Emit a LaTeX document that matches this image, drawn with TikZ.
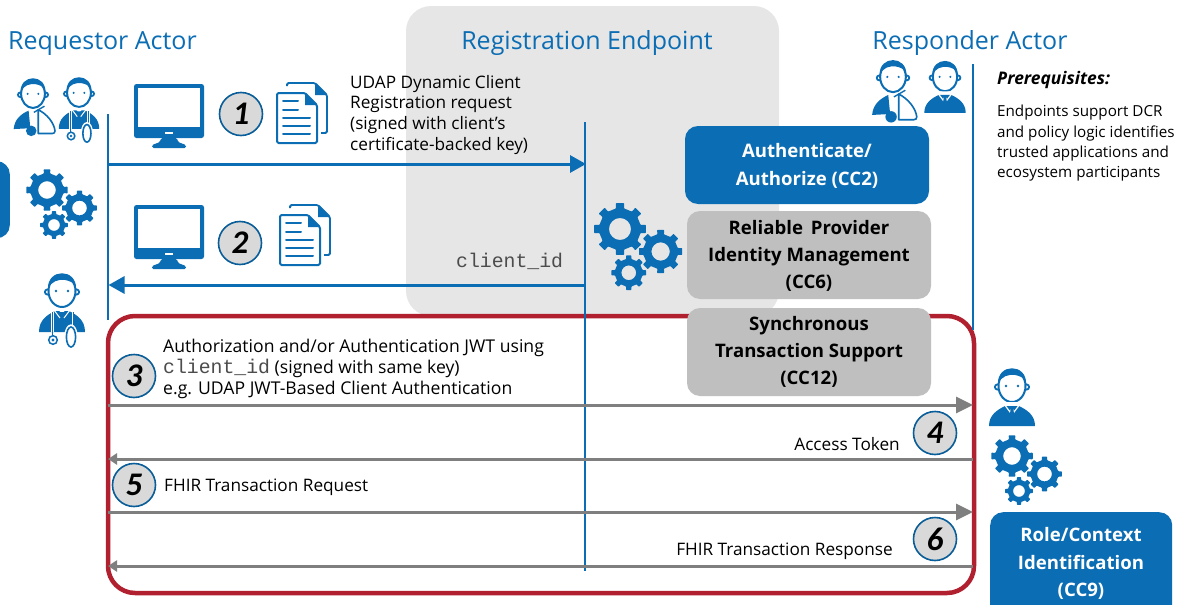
\documentclass[tikz,border=0pt]{standalone}
\usepackage{fontspec}
\setmainfont{Open Sans}
\newfontfamily\monof{Liberation Mono}
\newfontfamily\numf{Carlito}
\definecolor{bluec}{HTML}{0B6DB3}
\definecolor{redc}{HTML}{B0202F}
\definecolor{greyl}{HTML}{7F7F7F}
\definecolor{panel}{HTML}{E6E6E6}
\definecolor{boxg}{HTML}{BFBFBF}
\definecolor{numfill}{HTML}{D9D9D9}
\newcommand{\fs}[2]{\fontsize{#1}{#2}\selectfont}
\newcommand{\gearshape}[3]{% x y R
  \fill[bluec,even odd rule,rounded corners=0.6pt,shift={(#1,#2)}]
    (-11:0.80*#3)
    \foreach \a in {0,45,...,315}{
      -- (\a-11:0.80*#3) -- (\a-9:#3) -- (\a+9:#3) -- (\a+11:0.80*#3)
    } -- cycle
    (0,0) circle[radius=0.42*#3];
}
\newcommand{\headshape}{%
  \draw[bluec,line width=1.8pt,fill=white] (-14.5,2) circle[radius=2.6];
  \draw[bluec,line width=1.8pt,fill=white] (14.5,2) circle[radius=2.6];
  \draw[bluec,line width=2pt,fill=white] (0,1) ellipse[x radius=13.5,y radius=16];
  \fill[bluec] (-14,-1) .. controls (-15,-22) and (15,-22) .. (14,-1)
     .. controls (12,-8) and (8,-9) .. (3,-10) .. controls (-3,-11) and (-11,-9) .. cycle;
  \fill[bluec] (-6,1) circle[radius=1.3] (6,1) circle[radius=1.3];
}
\tikzset{
  x=1pt,y=-1pt,
  suitman/.pic={
    \headshape
    \fill[bluec] (-23,41) .. controls (-23,30) and (-15,25) .. (-7,21) -- (7,21) .. controls (15,25) and (23,30) .. (23,41) -- cycle;
    \draw[white,line width=1.2pt] (-8,19) -- (-2,27) -- (0,22) -- (2,27) -- (8,19);
    \fill[white] (-6,17) -- (6,17) -- (0,23) -- cycle;
    \fill[bluec] (-2.5,21) -- (2.5,21) -- (1.5,25) -- (3,36) -- (0,40) -- (-3,36) -- (-1.5,25) -- cycle;
  },
  doctor/.pic={
    \headshape
    \fill[bluec] (-23,42) .. controls (-23,30) and (-15,25) .. (-7,21) -- (7,21) .. controls (15,25) and (23,30) .. (23,42) -- cycle;
    \fill[white] (-5,18) -- (5,18) -- (0,24) -- cycle;
    \fill[bluec] (-2.2,22) -- (2.2,22) -- (1.3,26) -- (2.5,35) -- (-2.5,35) -- (-1.3,26) -- cycle;
    \draw[white,line width=1pt] (-8,20) -- (-2,28) (8,20) -- (2,28);
    \draw[white,line width=2.4pt] (-9.5,22) -- (-9.5,42) (11,22) -- (11,36);
    \draw[bluec,line width=1pt] (-9.5,22) -- (-9.5,45) (11,22) -- (11,36);
    \draw[bluec,line width=1.5pt,fill=white] (-9,50) circle[radius=4.3];
    \fill[bluec] (-9,50) circle[radius=1.6];
    \draw[white,line width=3.2pt] (9,46) ellipse[x radius=5,y radius=10];
    \draw[bluec,line width=1.6pt,fill=white] (9,47) ellipse[x radius=4.6,y radius=10];
  },
  patient/.pic={
    \headshape
    \fill[bluec] (-22,41) .. controls (-21,30) and (-14,24) .. (-5,20) -- (-3,40) -- cycle;
    \fill[bluec] (-2,43) circle[radius=6];
    \draw[bluec,line width=1.6pt,fill=white,line join=round] (6,19) .. controls (16,24) and (24,34) .. (25,43) .. controls (25,45) and (24,46) .. (22,46) -- (6,46) -- cycle;
    \draw[bluec,line width=1.4pt] (1,22) -- (13,15);
  },
  gearset/.pic={
    \gearshape{0}{0}{21}
    \gearshape{32.5}{18}{17.5}
    \gearshape{7}{35}{14}
  },
  monitor/.pic={
    \fill[bluec,even odd rule,rounded corners=2.5pt] (0,0) rectangle (70,54);
    \fill[white] (4,4) rectangle (66,43);
    \fill[white] (31,47.5) rectangle (39,49.5);
    \fill[bluec,rounded corners=1.5pt] (27,54) -- (43,54) -- (44,58) -- (52,61) -- (52,64) -- (18,64) -- (18,61) -- (26,58) -- cycle;
  },
  docs/.pic={
    \draw[bluec,line width=1.8pt,rounded corners=1.5pt] (10,-7) -- (10,-10) -- (38,-10) -- (50,2) -- (50,40) -- (44,40);
    \fill[bluec] (38,-10) -- (50,2) -- (38,2) -- cycle;
    \draw[bluec,line width=2pt,fill=white,line join=round,rounded corners=1.5pt] (0,0) -- (28,0) -- (40,12) -- (40,50) -- (0,50) -- cycle;
    \fill[bluec] (28,0) -- (40,12) -- (28,12) -- cycle;
    \draw[bluec,line width=2pt,line cap=round] (6,8) -- (21,8) (6,17) -- (21,17) (6,25) -- (33,25) (6,33) -- (33,33) (6,41) -- (33,41);
  },
  numc/.style={circle,draw=bluec!85!black,line width=1.6pt,fill=numfill,minimum size=43pt,inner sep=0pt,
     font=\numf\bfseries\itshape\fs{33}{33},text=black},
  title/.style={text=bluec,font=\fs{25}{28},inner sep=0pt},
  body/.style={text=black,font=\fs{17.2}{20.7},align=left,inner sep=0pt,anchor=north west},
  capbox/.style={rounded corners=13pt,inner sep=0pt},
  captext/.style={inner sep=0pt,align=center,font=\bfseries\fs{18.6}{27.2}},
  bluebox/.style={capbox,fill=bluec},
  greybox/.style={capbox,fill=boxg},
  bluearrow/.style={draw=bluec,line width=3pt,-{Triangle[length=16pt,width=17pt]}},
  greyarrow/.style={draw=greyl,line width=3pt,-{Triangle[length=17pt,width=16pt]}},
  greyback/.style={draw=greyl,line width=3pt,-{Triangle[length=9pt,width=11pt]}},
  lifeline/.style={draw=bluec,line width=2.5pt},
}
\usetikzlibrary{arrows.meta}
\begin{document}
\begin{tikzpicture}
\useasboundingbox (0,0) rectangle (1192,605);
\begin{scope}
\clip (0,0) rectangle (1192,605);
\fill[panel,rounded corners=25pt] (406,6) rectangle (779,316);
\draw[redc,line width=4.5pt,fill=white,rounded corners=27pt] (108,316) rectangle (974,593);
\node[bluebox,minimum width=60pt,minimum height=77pt,anchor=north east] (stub) at (10,161) {};
\node[bluebox,minimum width=182pt,minimum height=110pt,anchor=north west] (role) at (990,512) {};
\end{scope}
\node[title,anchor=base west] (t1) at (8,49) {Requestor Actor};
\node[title,anchor=base] (t2) at (587,49) {Registration Endpoint};
\node[title,anchor=base] (t3) at (970,49) {Responder Actor};
% lifelines
\coordinate (reqtop) at (108,114);
\coordinate (reqbot) at (108,320);
\coordinate (regtop) at (585,122);
\coordinate (regbot) at (585,571);
\coordinate (restop) at (973,64);
\coordinate (resbot) at (973,330);
\coordinate (a1s) at (108,164);
\coordinate (a1e) at (586,164);
\coordinate (a2s) at (585,285);
\coordinate (a2e) at (108.5,285);
\coordinate (a3s) at (108,405);
\coordinate (a3e) at (973,405);
\coordinate (a4s) at (973,459);
\coordinate (a4e) at (108,459);
\coordinate (a5s) at (108,512);
\coordinate (a5e) at (973,512);
\coordinate (a6s) at (973,566);
\coordinate (a6e) at (108,566);
\draw[lifeline] (reqtop) -- (reqbot);
\draw[lifeline] (restop) -- (resbot);
\draw[lifeline] (regtop) -- (regbot);
\draw[bluearrow] (a1s) -- (a1e);
\draw[bluearrow] (a2s) -- (a2e);
\draw[greyarrow] (a3s) -- (a3e);
\draw[greyback] (a4s) -- (a4e);
\draw[greyarrow] (a5s) -- (a5e);
\draw[greyback] (a6s) -- (a6e);
% coloured boxes
\node[bluebox,minimum width=244pt,minimum height=78pt] (cc2) at (807,165) {};
\node[greybox,minimum width=244pt,minimum height=88pt] (cc6) at (809,255) {};
\node[greybox,minimum width=244pt,minimum height=88pt] (cc12) at (809,352) {};
\node[captext,text=white] (cc2t) at (807,166) {Authenticate/\\Authorize (CC2)};
\node[captext] (cc6t) at (809,256) {Reliable\, Provider\\Identity Management\\(CC6)};
\node[captext] (cc12t) at (809,352) {Synchronous\\Transaction Support\\(CC12)};
\node[captext,text=white] (cc9) at (1081,563.5) {Role/Context\\Identification\\(CC9)};
% numbers
\node[numc] (n1) at (241,114) {1};
\node[numc] (n2) at (240,243) {2};
\node[numc] (n3) at (134,376) {3};
\node[numc] (n4) at (935,433) {4};
\node[numc] (n5) at (134,485) {5};
\node[numc] (n6) at (935,539) {6};
% text
\node[body] (l1) at (350,75) {UDAP Dynamic Client\\Registration request\\(signed with client’s\\certificate-backed key)};
\node[anchor=base west,inner sep=0pt,font=\monof\fs{19.8}{20},text=black!70] (l2) at (456,267) {client\_id};
\node[body,font=\fs{17.6}{21}] (l3) at (163,338.5) {Authorization and/or Authentication JWT using\\{\monof\fs{19.8}{21}\color{black!70}client\_id} (signed with same key)\\e.g. UDAP JWT-Based Client Authentication};
\node[anchor=base east,inner sep=0pt,font=\fs{17.2}{20}] (l4) at (900,450) {Access Token};
\node[anchor=base west,inner sep=0pt,font=\fs{17.2}{20}] (l5) at (164,491) {FHIR Transaction Request};
\node[anchor=base east,inner sep=0pt,font=\fs{17.2}{20}] (l6) at (893,555) {FHIR Transaction Response};
\node[anchor=base west,inner sep=0pt,font=\bfseries\itshape\fs{17.4}{20}] (pr) at (997,84) {Prerequisites:};
\node[inner sep=0pt,anchor=north west,align=left,font=\fs{15.2}{20.3}] (prt) at (997,105) {Endpoints support DCR\\and policy logic identifies\\trusted applications and\\ecosystem participants};
% icons
\pic[scale=0.88] at (33,93) {patient};
\pic[scale=0.88] at (79,92) {doctor};
\pic at (62,290) {doctor};
\pic[scale=0.95] at (893,76) {patient};
\pic[scale=0.9] at (945,76) {suitman};
\pic at (1012,385) {suitman};
\pic at (47,190) {gearset};
\pic[scale=1.25] at (620,229) {gearset};
\pic at (1012,456) {gearset};
\pic at (134,84) {monitor};
\pic at (134,205) {monitor};
\pic at (277,93) {docs};
\pic at (280,215) {docs};
\end{tikzpicture}
\end{document}
